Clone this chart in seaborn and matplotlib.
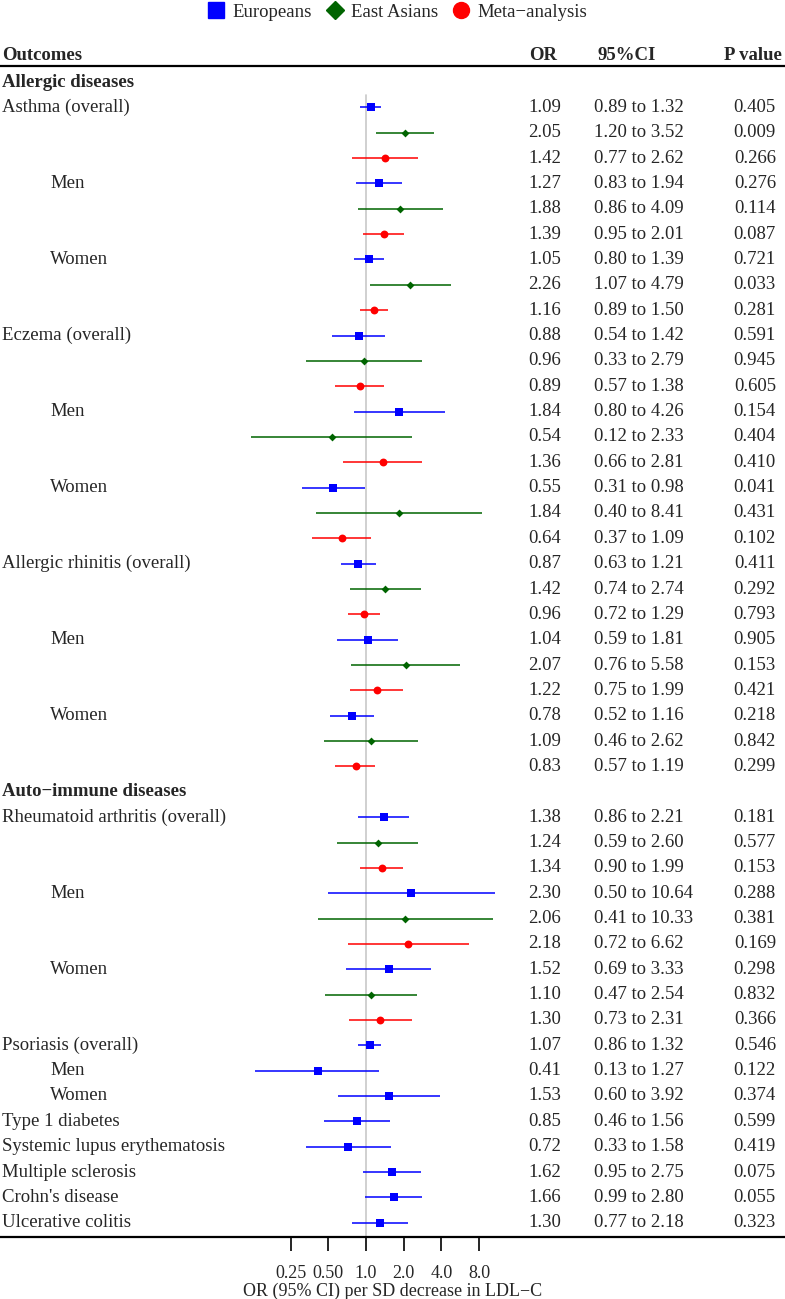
import numpy as np
import pandas as pd
import matplotlib
matplotlib.use("Agg")
import matplotlib.pyplot as plt
import matplotlib.transforms as mtrans
from matplotlib.lines import Line2D
import seaborn as sns

sns.set_theme(style="white")
plt.rcParams['font.family'] = ['Liberation Serif', 'DejaVu Serif']

# ---------------- data ----------------
row_labels = [
    "Allergic diseases",
    "Asthma (overall)", "", "", "Men", "", "", "Women", "", "",
    "Eczema (overall)", "", "", "Men", "", "", "Women", "", "",
    "Allergic rhinitis (overall)", "", "", "Men", "", "", "Women", "", "",
    "Auto\u2212immune diseases",
    "Rheumatoid arthritis (overall)", "", "", "Men", "", "", "Women", "", "",
    "Psoriasis (overall)", "Men", "Women",
    "Type 1 diabetes", "Systemic lupus erythematosis", "Multiple sclerosis",
    "Crohn's disease", "Ulcerative colitis",
]
row_kind = (["H"] + ["E", "A", "M"] * 9 + ["H"] + ["E", "A", "M"] * 3
            + ["E"] * 8)

or_vals = [1.09, 2.05, 1.42, 1.27, 1.88, 1.39, 1.05, 2.26, 1.16,
           0.88, 0.96, 0.89, 1.84, 0.54, 1.36, 0.55, 1.84, 0.64,
           0.87, 1.42, 0.96, 1.04, 2.07, 1.22, 0.78, 1.09, 0.83,
           1.38, 1.24, 1.34, 2.30, 2.06, 2.18, 1.52, 1.10, 1.30,
           1.07, 0.41, 1.53, 0.85, 0.72, 1.62, 1.66, 1.30]
lo_vals = [0.89, 1.20, 0.77, 0.83, 0.86, 0.95, 0.80, 1.07, 0.89,
           0.54, 0.33, 0.57, 0.80, 0.12, 0.66, 0.31, 0.40, 0.37,
           0.63, 0.74, 0.72, 0.59, 0.76, 0.75, 0.52, 0.46, 0.57,
           0.86, 0.59, 0.90, 0.50, 0.41, 0.72, 0.69, 0.47, 0.73,
           0.86, 0.13, 0.60, 0.46, 0.33, 0.95, 0.99, 0.77]
hi_vals = [1.32, 3.52, 2.62, 1.94, 4.09, 2.01, 1.39, 4.79, 1.50,
           1.42, 2.79, 1.38, 4.26, 2.33, 2.81, 0.98, 8.41, 1.09,
           1.21, 2.74, 1.29, 1.81, 5.58, 1.99, 1.16, 2.62, 1.19,
           2.21, 2.60, 1.99, 10.64, 10.33, 6.62, 3.33, 2.54, 2.31,
           1.32, 1.27, 3.92, 1.56, 1.58, 2.75, 2.80, 2.18]
p_vals = [0.405, 0.009, 0.266, 0.276, 0.114, 0.087, 0.721, 0.033, 0.281,
          0.591, 0.945, 0.605, 0.154, 0.404, 0.410, 0.041, 0.431, 0.102,
          0.411, 0.292, 0.793, 0.905, 0.153, 0.421, 0.218, 0.842, 0.299,
          0.181, 0.577, 0.153, 0.288, 0.381, 0.169, 0.298, 0.832, 0.366,
          0.546, 0.122, 0.374, 0.599, 0.419, 0.075, 0.055, 0.323]

group_names = {"E": "Europeans", "A": "East Asians", "M": "Meta\u2212analysis"}
group_colors = {"E": "#0000FF", "A": "#006400", "M": "#FF0000"}
group_markers = {"E": "s", "A": "D", "M": "o"}
group_sizes = {"E": 30, "A": 16, "M": 32}
legend_sizes = {"E": 11, "A": 9, "M": 11.5}

tick_vals = [0.25, 0.5, 1.0, 2.0, 4.0, 8.0]
tick_labels = ["0.25", "0.50", "1.0", "2.0", "4.0", "8.0"]

# ---------------- build table ----------------
data_rows = [i for i, k in enumerate(row_kind) if k != "H"]
df = pd.DataFrame({
    "row": data_rows,
    "kind": [row_kind[i] for i in data_rows],
    "OR": or_vals, "lo": lo_vals, "hi": hi_vals, "p": p_vals,
})
df["group"] = df["kind"].map(group_names)

# ---------------- figure ----------------
W, H = 785, 1299
fig = plt.figure(figsize=(W / 100, H / 100), dpi=100)

y_top_px, y_bot_px = 66, 1237
row0_px, row_step = 82, 25.35
ax = fig.add_axes([0, (H - y_bot_px) / H, 1, (y_bot_px - y_top_px) / H])
ax.set_xscale("log", base=2)
x0_px, per_dbl = 366, 37.7
ax.set_xlim(2 ** (-x0_px / per_dbl), 2 ** ((W - x0_px) / per_dbl))
y_bot_row = (y_bot_px - row0_px) / row_step
ax.set_ylim(y_bot_row, (y_top_px - row0_px) / row_step)

# reference line
ax.plot([1, 1], [0.5, y_bot_row], color="#C8C8C8", lw=1.2, zorder=1)

# CI lines and points
for k in ["E", "A", "M"]:
    sub = df[df["kind"] == k]
    ax.hlines(sub["row"], sub["lo"], sub["hi"], color=group_colors[k],
              lw=1.1, zorder=2)
    sns.scatterplot(data=sub, x="OR", y="row", marker=group_markers[k],
                    color=group_colors[k], s=group_sizes[k], linewidth=0,
                    ax=ax, zorder=3, legend=False)

# spines / ticks
for s in ["left", "right"]:
    ax.spines[s].set_visible(False)
for s in ["top", "bottom"]:
    ax.spines[s].set_linewidth(1.6)
    ax.spines[s].set_color("black")
ax.set_yticks([])
ax.set_xticks(tick_vals)
ax.set_xticklabels(tick_labels)
ax.minorticks_off()
ax.tick_params(axis="x", which="major", bottom=True, top=False,
               direction="out", length=10, width=1.2,
               color="black", labelsize=13, pad=10)
ax.set_xlabel("OR (95% CI) per SD decrease in LDL\u2212C", fontsize=13,
              labelpad=1)
ax.set_ylabel("")

# text columns
tr = mtrans.blended_transform_factory(fig.transFigure, ax.transData)
fs = 13.5
for i, lab in enumerate(row_labels):
    if not lab:
        continue
    if row_kind[i] == "H":
        ax.text(2 / W, i, lab, transform=tr, fontsize=fs, fontweight="bold",
                va="center", ha="left")
    else:
        indent = 50 if lab in ("Men", "Women") else 2
        ax.text(indent / W, i, lab, transform=tr, fontsize=fs,
                va="center", ha="left")

for _, r in df.iterrows():
    ax.text(561 / W, r["row"], f"{r['OR']:.2f}", transform=tr, fontsize=fs,
            va="center", ha="right")
    ax.text(594 / W, r["row"], f"{r['lo']:.2f} to {r['hi']:.2f}",
            transform=tr, fontsize=fs, va="center", ha="left")
    ax.text(776 / W, r["row"], f"{r['p']:.3f}", transform=tr, fontsize=fs,
            va="center", ha="right")

# header
hy = 1 - 55 / H
fig.text(2 / W, hy, "Outcomes", fontsize=fs, fontweight="bold", va="center", ha="left")
fig.text(543 / W, hy, "OR", fontsize=fs, fontweight="bold", va="center", ha="center")
fig.text(597 / W, hy, "95%CI", fontsize=fs, fontweight="bold", va="center", ha="left")
fig.text(782 / W, hy, "P value", fontsize=fs, fontweight="bold", va="center", ha="right")

# legend
handles = [Line2D([], [], marker=group_markers[k], color=group_colors[k],
                  linestyle="none", markersize=legend_sizes[k])
           for k in ["E", "A", "M"]]
fig.legend(handles, [group_names[k] for k in ["E", "A", "M"]],
           loc="center", bbox_to_anchor=(397 / W, 1 - 12 / H), ncol=3,
           frameon=False, fontsize=fs, handletextpad=0.4, columnspacing=0.7,
           handlelength=1.0)

fig.savefig("out.png", dpi=100)
